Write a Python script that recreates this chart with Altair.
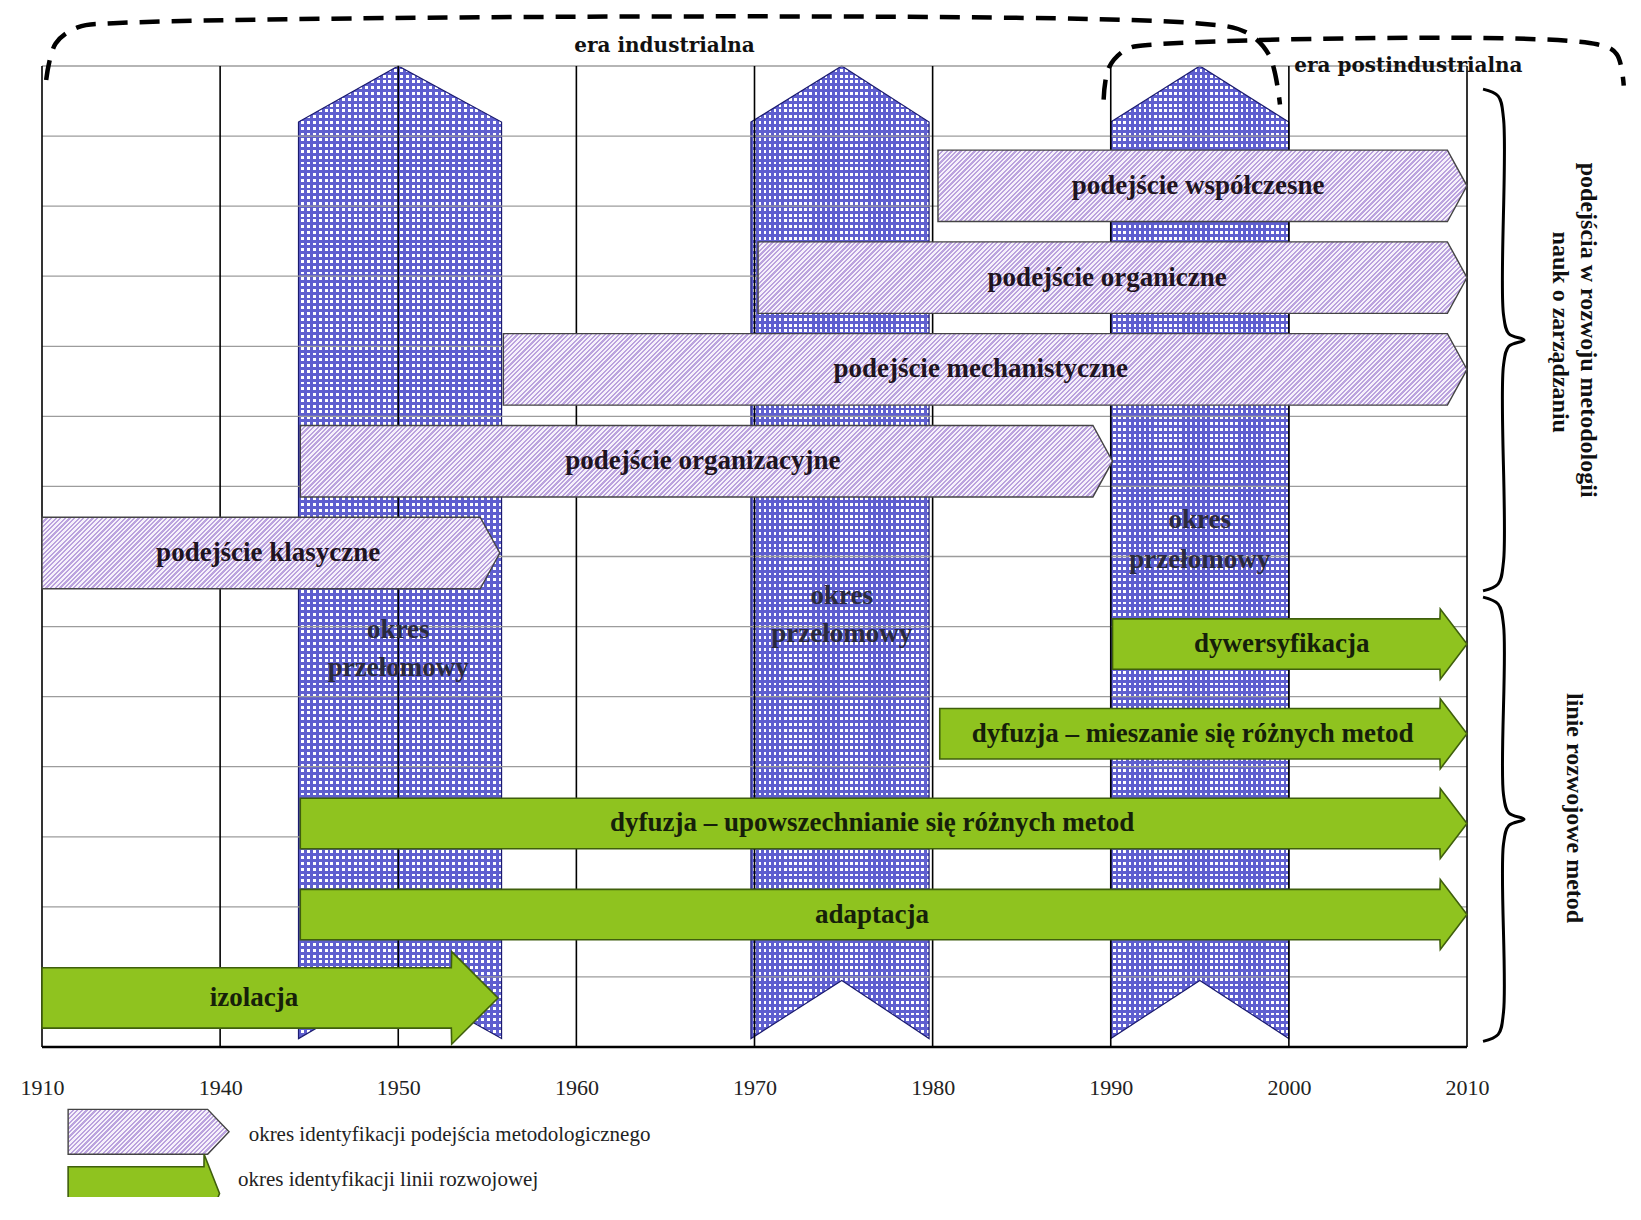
import altair as alt
import pandas as pd

# ---------------- data (years on x, grid rows on y; row 0 = top line) ----------------
tick_years = [1910, 1940, 1950, 1960, 1970, 1980, 1990, 2000, 2010]
grid_rows = list(range(15))

col_left = [1944.4, 1969.8, 1990.0]
col_apex = [1950.0, 1974.9, 1995.0]
col_right = [1955.8, 1979.8, 2000.0]
col_label_r1 = [8.05, 7.57, 6.48]
col_label_r2 = [8.59, 8.10, 7.05]
col_words = ["okres", "przełomowy"]

pink_names = ["podejście współczesne", "podejście organiczne", "podejście mechanistyczne",
              "podejście organizacyjne", "podejście klasyczne"]
pink_start = [1980.3, 1970.2, 1955.9, 1944.5, 1910.0]
pink_end = [2010.0, 2010.0, 2010.0, 1990.1, 1955.7]
pink_row = [1.71, 3.02, 4.33, 5.64, 6.95]
pink_label_x = [1994.9, 1989.8, 1982.7, 1967.1, 1942.7]

green_names = ["dywersyfikacja", "dyfuzja – mieszanie się różnych metod",
               "dyfuzja – upowszechnianie się różnych metod", "adaptacja", "izolacja"]
green_start = [1990.1, 1980.4, 1944.5, 1944.5, 1910.0]
green_end = [2010.0, 2010.0, 2010.0, 2010.0, 1955.6]
green_row = [8.25, 9.53, 10.81, 12.11, 13.30]
green_label_x = [1999.6, 1994.6, 1976.6, 1976.6, 1941.9]

era_ind_x = [1910.7, 1912.3, 1916.0, 1922.0, 1994.8, 1997.6, 1998.9, 1999.5]
era_ind_r = [0.20, -0.32, -0.55, -0.61, -0.61, -0.48, -0.15, 0.55]
era_post_x = [1989.6, 1989.9, 1990.9, 1992.6, 2017.3, 2018.4, 2018.8]
era_post_r = [0.48, 0.02, -0.24, -0.31, -0.31, -0.17, 0.28]

brace_x = [2010.9, 2011.75, 2012.05, 2012.05, 2012.35, 2013.2, 2012.35, 2012.05, 2012.05, 2011.75, 2010.9]
brace1_r = [0.33, 0.43, 0.75, 3.55, 3.82, 3.91, 4.00, 4.27, 7.07, 7.39, 7.49]
brace2_r = [7.58, 7.68, 7.98, 10.40, 10.66, 10.75, 10.84, 11.10, 13.50, 13.82, 13.92]

era_texts = ["era industrialna", "era postindustrialna"]
era_x = [1964.95, 2000.3]
era_r = [-0.29, 0.0]

side_texts = ["podejścia w rozwoju metodologii", "nauk o zarządzaniu", "linie rozwojowe metod"]
side_x = [2016.8, 2015.2, 2016.0]
side_r = [3.77, 3.80, 10.59]

legend_texts = ["okres identyfikacji podejścia metodologicznego", "okres identyfikacji linii rozwojowej"]
legend_text_x = [1941.6, 1941.0]
legend_text_r = [15.25, 15.90]

# ---------------- styles ----------------
FONT = "Liberation Serif"
BLUE, BLUE_STROKE = "#5f5fcf", "#1c1c70"
PINK_LINE, PINK_LIGHT, PINK_STROKE = "#bba3de", "#f6f1fb", "#444444"
GREEN_FILL, GREEN_STROKE = "#8fc31f", "#3f5f0c"
CLEAR = "rgba(255,255,255,0)"

COL_SHOULDER, COL_BOTTOM, COL_NOTCH = 0.8, 13.88, 13.05
PINK_HALF, PINK_HEAD = 0.51, 1.1
GREEN_SHAPE = {"default": (0.36, 0.50, 1.5), "izolacja": (0.43, 0.66, 2.6)}
EPS = 0.02  # keeps the two head-base points of an arrow in x order

W, H = 1425, 981
ROW_PX = H / 14
xscale = alt.Scale(domain=[1910, 1940, 2010], range=[0, W / 8, W], nice=False, zero=False)
yscale = alt.Scale(domain=[0, 14], reverse=True, nice=False, zero=False)
xaxis = alt.Axis(values=tick_years, format="d", labelFont=FONT, labelFontSize=22,
                 labelColor="#222222", labelPadding=30, ticks=False, domain=False,
                 grid=False, title=None, labelFlush=False, labelOverlap=False, labelBound=False)


def X(f):
    return alt.X(f, type="quantitative", scale=xscale, axis=xaxis)


def Y(f):
    return alt.Y(f, type="quantitative", scale=yscale, axis=None)


def px(year):
    # pixel width helper used only for sizing the fill textures
    if year < 1940:
        return (year - 1910) / 30 * W / 8
    return W / 8 + (year - 1940) / 70 * W * 7 / 8


def stripe_gradient(n, c1, c2, frac, x2, y2):
    stops = []
    for k in range(n):
        a, b, c = k / n, (k + frac) / n, (k + 1) / n
        stops += [{"offset": a, "color": c1}, {"offset": b, "color": c1},
                  {"offset": b, "color": c2}, {"offset": c, "color": c2}]
    return {"gradient": "linear", "x1": 0, "y1": 0, "x2": x2, "y2": y2, "stops": stops}


def hatch(w, h, period=4.6):
    a = w * (w + h) / (w * w + h * h)
    n = max(4, int(round((w + h) / period)))
    return stripe_gradient(n, PINK_LINE, PINK_LIGHT, 0.5, a, a * h / w)


# ---------------- tables ----------------
col_rows = []
for i in range(len(col_left)):
    col_rows += [
        {"id": i, "x": col_left[i], "y": COL_SHOULDER, "y2": COL_BOTTOM},
        {"id": i, "x": col_apex[i], "y": 0.0, "y2": COL_NOTCH},
        {"id": i, "x": col_right[i], "y": COL_SHOULDER, "y2": COL_BOTTOM},
    ]
df_cols = pd.DataFrame(col_rows)

col_text_rows = []
for i in range(len(col_left)):
    col_text_rows.append({"x": col_apex[i], "r": col_label_r1[i], "t": col_words[0]})
    col_text_rows.append({"x": col_apex[i], "r": col_label_r2[i], "t": col_words[1]})
df_col_text = pd.DataFrame(col_text_rows)

df_pink_lab = pd.DataFrame({"x": pink_label_x, "r": pink_row, "t": pink_names})

green_rows = []
for i, n in enumerate(green_names):
    c = green_row[i]
    bh, hh, hl = GREEN_SHAPE.get(n, GREEN_SHAPE["default"])
    base = green_end[i] - hl
    green_rows += [
        {"id": n, "x": green_start[i], "y": c - bh, "y2": c + bh},
        {"id": n, "x": base - EPS, "y": c - bh, "y2": c + bh},
        {"id": n, "x": base, "y": c - hh, "y2": c + hh},
        {"id": n, "x": green_end[i], "y": c, "y2": c},
    ]
df_green = pd.DataFrame(green_rows)
df_green_lab = pd.DataFrame({"x": green_label_x, "r": green_row, "t": green_names})

df_hgrid = pd.DataFrame({"r": grid_rows, "x0": 1910, "x1": 2010})
df_vgrid = pd.DataFrame({"year": tick_years, "r0": 0, "r1": 14})

dash_rows = []
for k, (xs, rs) in enumerate([(era_ind_x, era_ind_r), (era_post_x, era_post_r)]):
    for j, (xv, rv) in enumerate(zip(xs, rs)):
        dash_rows.append({"id": k, "o": j, "x": xv, "r": rv})
df_dash = pd.DataFrame(dash_rows)

brace_rows = []
for k, rs in enumerate([brace1_r, brace2_r]):
    for j, (xv, rv) in enumerate(zip(brace_x, rs)):
        brace_rows.append({"id": k, "o": j, "x": xv, "r": rv})
df_brace = pd.DataFrame(brace_rows)

# legend keys (same shapes as the arrows)
lp = {"x0": 1914.4, "xb": 1937.9, "xt": 1940.5, "r": 15.21, "h": 0.32}
lg = {"x0": 1914.4, "xb": 1937.3, "xt": 1939.9, "r": 16.09, "bh": 0.38, "hh": 0.56}
df_leg_green = pd.DataFrame([
    {"x": lg["x0"], "y": lg["r"] - lg["bh"], "y2": lg["r"] + lg["bh"]},
    {"x": lg["xb"] - EPS, "y": lg["r"] - lg["bh"], "y2": lg["r"] + lg["bh"]},
    {"x": lg["xb"], "y": lg["r"] - lg["hh"], "y2": lg["r"] + lg["hh"]},
    {"x": lg["xt"], "y": lg["r"], "y2": lg["r"]},
])

# ---------------- layers ----------------
col_h_px = COL_BOTTOM * ROW_PX
col_w_px = px(col_right[0]) - px(col_left[0])
dots_x = stripe_gradient(int(round(col_w_px / 5.8)), BLUE, CLEAR, 0.5, 1, 0)
dots_y = stripe_gradient(int(round(col_h_px / 5.8)), BLUE, CLEAR, 0.5, 0, 1)

cols_a = alt.Chart(df_cols).mark_area(fill=dots_x, orient="vertical", interpolate="linear").encode(
    x=X("x"), y=Y("y"), y2="y2", detail="id:N")
cols_b = alt.Chart(df_cols).mark_area(fill=dots_y, stroke=BLUE_STROKE, strokeWidth=1.2,
                                      orient="vertical", interpolate="linear").encode(
    x=X("x"), y=Y("y"), y2="y2", detail="id:N")

hgrid = alt.Chart(df_hgrid).mark_rule(color="#9c9c9c", strokeWidth=1.3).encode(
    x=X("x0"), x2="x1", y=Y("r"))
vgrid = alt.Chart(df_vgrid).mark_rule(color="#000000", strokeWidth=1.6).encode(
    x=X("year"), y=Y("r0"), y2="r1")
bottom = alt.Chart(df_hgrid[df_hgrid["r"] == 14]).mark_rule(color="#000000", strokeWidth=2.4).encode(
    x=X("x0"), x2="x1", y=Y("r"))

col_text = alt.Chart(df_col_text).mark_text(font=FONT, fontSize=27, fontWeight="bold",
                                            color="#2a2a3c", baseline="middle").encode(
    x=X("x"), y=Y("r"), text="t:N")

pink_layers = []
for i, n in enumerate(pink_names):
    c = pink_row[i]
    d = pd.DataFrame([
        {"x": pink_start[i], "y": c - PINK_HALF, "y2": c + PINK_HALF},
        {"x": pink_end[i] - PINK_HEAD, "y": c - PINK_HALF, "y2": c + PINK_HALF},
        {"x": pink_end[i], "y": c, "y2": c},
    ])
    w_px = px(pink_end[i]) - px(pink_start[i])
    h_px = 2 * PINK_HALF * ROW_PX
    pink_layers.append(
        alt.Chart(d).mark_area(fill=hatch(w_px, h_px), stroke=PINK_STROKE, strokeWidth=1.4,
                               orient="vertical", interpolate="linear").encode(
            x=X("x"), y=Y("y"), y2="y2"))

pink_lab = alt.Chart(df_pink_lab).mark_text(font=FONT, fontSize=27, fontWeight="bold",
                                            color="#1e1420", baseline="middle").encode(
    x=X("x"), y=Y("r"), text="t:N")

green = alt.Chart(df_green).mark_area(fill=GREEN_FILL, stroke=GREEN_STROKE, strokeWidth=1.6,
                                      orient="vertical", interpolate="linear").encode(
    x=X("x"), y=Y("y"), y2="y2", detail="id:N")
green_lab = alt.Chart(df_green_lab).mark_text(font=FONT, fontSize=27, fontWeight="bold",
                                              color="#16200a", baseline="middle").encode(
    x=X("x"), y=Y("r"), text="t:N")

dashes = alt.Chart(df_dash).mark_line(color="#000000", strokeWidth=4.5, strokeDash=[20, 12],
                                      interpolate="catmull-rom").encode(
    x=X("x"), y=Y("r"), detail="id:N", order="o:Q")
braces = alt.Chart(df_brace).mark_line(color="#000000", strokeWidth=3,
                                       interpolate="catmull-rom").encode(
    x=X("x"), y=Y("r"), detail="id:N", order="o:Q")

era1 = alt.Chart(pd.DataFrame({"x": era_x[:1], "r": era_r[:1], "t": era_texts[:1]})).mark_text(
    font="DejaVu Serif", fontSize=20, fontWeight="bold", color="#111111", align="center",
    baseline="middle").encode(x=X("x"), y=Y("r"), text="t:N")
era2 = alt.Chart(pd.DataFrame({"x": era_x[1:], "r": era_r[1:], "t": era_texts[1:]})).mark_text(
    font="DejaVu Serif", fontSize=20, fontWeight="bold", color="#111111", align="left",
    baseline="middle").encode(x=X("x"), y=Y("r"), text="t:N")

side = alt.Chart(pd.DataFrame({"x": side_x, "r": side_r, "t": side_texts})).mark_text(
    font=FONT, fontSize=24, fontWeight="bold", color="#111111", angle=90,
    align="center", baseline="middle").encode(x=X("x"), y=Y("r"), text="t:N")

df_leg_pink = pd.DataFrame([
    {"x": lp["x0"], "y": lp["r"] - lp["h"], "y2": lp["r"] + lp["h"]},
    {"x": lp["xb"], "y": lp["r"] - lp["h"], "y2": lp["r"] + lp["h"]},
    {"x": lp["xt"], "y": lp["r"], "y2": lp["r"]},
])
leg_pink = alt.Chart(df_leg_pink).mark_area(
    fill=hatch(px(lp["xt"]) - px(lp["x0"]), 2 * lp["h"] * ROW_PX),
    stroke=PINK_STROKE, strokeWidth=1.4, orient="vertical", interpolate="linear").encode(
    x=X("x"), y=Y("y"), y2="y2")
leg_green = alt.Chart(df_leg_green).mark_area(fill=GREEN_FILL, stroke=GREEN_STROKE, strokeWidth=1.6,
                                              orient="vertical", interpolate="linear").encode(
    x=X("x"), y=Y("y"), y2="y2")
leg_text = alt.Chart(pd.DataFrame({"x": legend_text_x, "r": legend_text_r, "t": legend_texts})).mark_text(
    font=FONT, fontSize=21, color="#222222", align="left", baseline="middle").encode(
    x=X("x"), y=Y("r"), text="t:N")

chart = alt.layer(
    cols_a, cols_b, hgrid, vgrid, bottom, col_text, *pink_layers, green, pink_lab, green_lab,
    dashes, braces, era1, era2, side, leg_pink, leg_green, leg_text
).properties(
    width=W, height=H,
    autosize=alt.AutoSizeParams(type="none"),
    padding={"left": 34, "top": 58, "right": 160, "bottom": 150},
    background="white",
).configure_view(stroke=None)

chart.save("out.html", embed_options={"renderer": "svg", "actions": False})
